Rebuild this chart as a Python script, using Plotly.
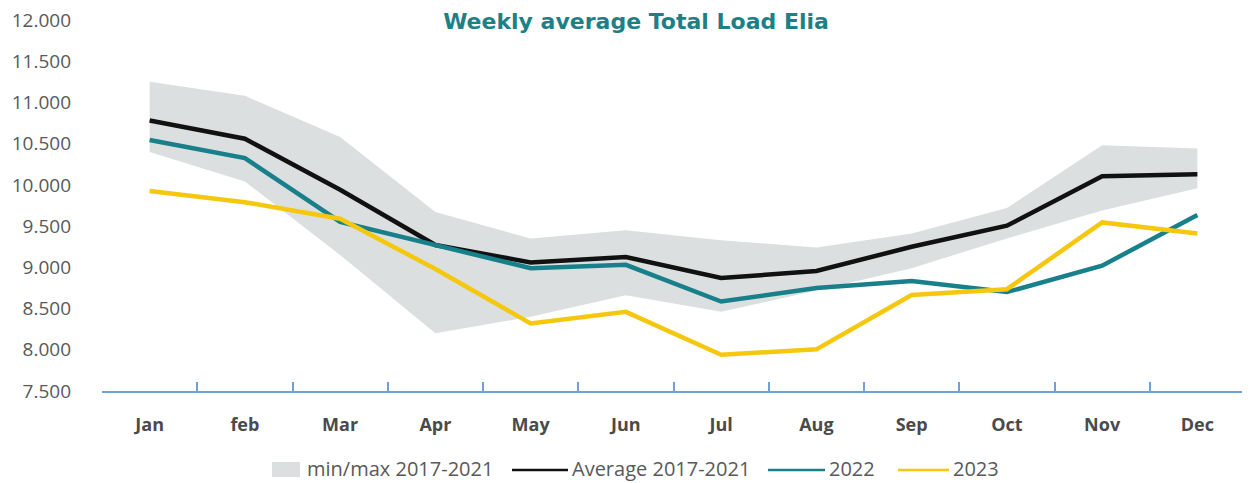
import plotly.graph_objects as go

months = ["Jan", "feb", "Mar", "Apr", "May", "Jun", "Jul", "Aug", "Sep", "Oct", "Nov", "Dec"]

band_max = [11250, 11080, 10580, 9670, 9350, 9450, 9330, 9240, 9410, 9720, 10480, 10440]
band_min = [10400, 10040, 9150, 8200, 8400, 8660, 8460, 8720, 8990, 9350, 9690, 9960]
avg_2017_2021 = [10780, 10560, 9940, 9270, 9060, 9125, 8870, 8955, 9250, 9505, 10105, 10130]
load_2022 = [10545, 10325, 9550, 9270, 8990, 9030, 8585, 8750, 8835, 8700, 9020, 9635]
load_2023 = [9925, 9790, 9590, 8980, 8320, 8460, 7940, 8005, 8665, 8735, 9545, 9410]

BAND = "#dcdfdf"
BLACK = "#111111"
TEAL = "#17808a"
YELLOW = "#f5c70f"

# page is drawn with an 8px body margin, so the figure is sized to fit
W, H = 1242, 475
L, R, T, B = 94, 5, 12, 92
PW, PH = W - L - R, H - T - B


def px(x):  # figure pixel -> paper x
    return (x - L) / PW


def py(y):  # figure pixel -> paper y
    return (H - B - y) / PH


fig = go.Figure()

fig.add_trace(go.Scatter(x=months, y=band_min, mode="lines", line=dict(width=0, color=BAND),
                         showlegend=False, hoverinfo="skip"))
fig.add_trace(go.Scatter(x=months, y=band_max, mode="lines", line=dict(width=0, color=BAND),
                         fill="tonexty", fillcolor=BAND, name="min/max 2017-2021", showlegend=False))
fig.add_trace(go.Scatter(x=months, y=avg_2017_2021, mode="lines", line=dict(width=4.5, color=BLACK),
                         name="Average 2017-2021", showlegend=False))
fig.add_trace(go.Scatter(x=months, y=load_2022, mode="lines", line=dict(width=4.5, color=TEAL),
                         name="2022", showlegend=False))
fig.add_trace(go.Scatter(x=months, y=load_2023, mode="lines", line=dict(width=4.5, color=YELLOW),
                         name="2023", showlegend=False))

# legend drawn by hand to get the long swatches of the original
leg_y = 461
shapes = [dict(type="rect", xref="paper", yref="paper", x0=px(264), x1=px(292),
               y0=py(leg_y + 8), y1=py(leg_y - 7), fillcolor=BAND, line=dict(width=0))]
for x0, x1, col in [(504, 560, BLACK), (760, 817, TEAL), (890, 941, YELLOW)]:
    shapes.append(dict(type="line", xref="paper", yref="paper", x0=px(x0), x1=px(x1),
                       y0=py(leg_y + 1), y1=py(leg_y + 1), line=dict(color=col, width=2.5)))
annotations = []
for x, label in [(297, "min/max 2017-2021"), (562, "Average 2017-2021"), (819, "2022"), (943, "2023")]:
    annotations.append(dict(text=label, xref="paper", yref="paper", x=px(x), y=py(leg_y),
                            xanchor="left", yanchor="middle", showarrow=False,
                            font=dict(family="Open Sans", size=20, color="#58595b")))

fig.update_layout(
    width=W, height=H,
    margin=dict(l=L, r=R, t=T, b=B),
    paper_bgcolor="white", plot_bgcolor="white",
    separators=",.",
    font=dict(family="Open Sans", size=16, color="#555555"),
    title=dict(text="<b>Weekly average Total Load Elia</b>",
               font=dict(family="DejaVu Sans", size=22, color="#1e7f86"),
               x=628 / W, xanchor="center", xref="container", y=1 - 13 / H, yanchor="middle", yref="container"),
    showlegend=False,
    shapes=shapes,
    annotations=annotations,
)

fig.update_xaxes(
    showgrid=False, showline=True, linecolor="#6fa0d8", linewidth=2,
    ticks="inside", ticklen=9, tickwidth=2, tickcolor="#6fa0d8", tickson="boundaries",
    range=[-0.5, 11.5], ticklabelstandoff=16, automargin=False,
    tickfont=dict(family="Open Sans", size=18, color="#4a4a4a", weight="bold"),
)
fig.update_yaxes(
    range=[7500, 12000], dtick=500, tick0=7500, tickformat=",d",
    showgrid=False, zeroline=False, showline=False, ticks="",
    ticklabelstandoff=30, automargin=False, ticklabeloverflow="allow",
    tickfont=dict(family="Open Sans", size=19, color="#58595b"),
)

fig.write_html("out.html")
